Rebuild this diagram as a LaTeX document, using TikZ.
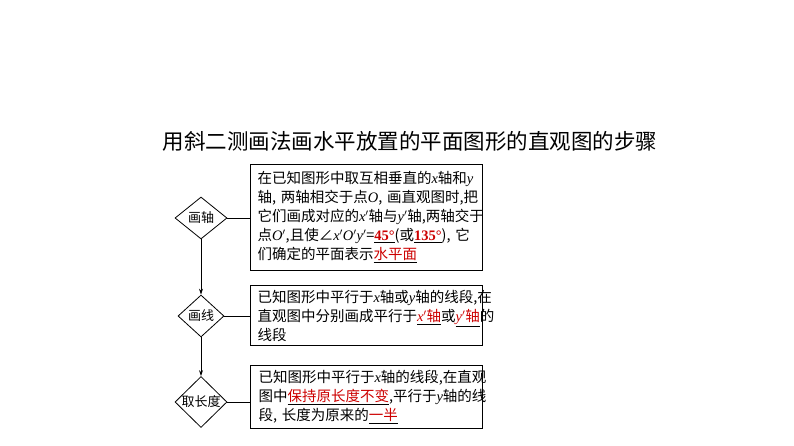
\documentclass[tikz,border=0pt]{standalone}
\usepackage{fontspec}
\setmainfont{Noto Sans CJK SC}
\newfontfamily\lat{Liberation Serif}
\usetikzlibrary{shapes.geometric,arrows.meta}
\newcommand{\vi}[1]{{\lat\itshape #1}}
\newcommand{\rd}[1]{\underline{\textcolor{red!80!black}{#1}}}
\tikzset{
  box/.style={draw,line width=1pt,anchor=north west,align=left,inner sep=0pt,font=\fontsize{14.5pt}{19pt}\selectfont},
  dia/.style={draw,diamond,line width=0.8pt,inner sep=1pt,font=\fontsize{13pt}{15pt}\selectfont,aspect=1},
  ln/.style={line width=0.8pt}
}
\begin{document}
\begin{tikzpicture}[x=1pt,y=-1pt]
\useasboundingbox (0,0) rectangle (794,446);
\node[font=\fontsize{21.5pt}{24pt}\selectfont] (title) at (410,141) {用斜二测画法画水平放置的平面图形的直观图的步骤};
\draw[line width=1pt] (250,165) rectangle (482,270);
\node[box,draw=none,text width=225pt] (b1) at (257,171) {在已知图形中取互相垂直的\vi{x}轴和\vi{y}\\轴, 两轴相交于点\vi{O}, 画直观图时,把\\它们画成对应的\vi{x}$'$轴与\vi{y}$'$轴,两轴交于\\点\vi{O}$'$,且使∠\vi{x}$'$\vi{O}$'$\vi{y}$'$=\rd{\lat\bfseries 45°}(或\rd{\lat\bfseries 135°}), 它\\们确定的平面表示\rd{水平面}};
\draw[line width=1pt] (250,285) rectangle (482,345);
\node[box,draw=none,text width=225pt] (b2) at (257,290) {已知图形中平行于\vi{x}轴或\vi{y}轴的线段,在\\直观图中分别画成平行于\rd{\vi{x}$'$轴}或\rd{\vi{y}$'$轴}的\\线段};
\draw[line width=1pt] (250,365) rectangle (482,428);
\node[box,draw=none,text width=225pt] (b3) at (258,370) {已知图形中平行于\vi{x}轴的线段,在直观\\图中\rd{保持原长度不变},平行于\vi{y}轴的线\\段, 长度为原来的\rd{一半}};
\node[dia,minimum width=52pt] (d1) at (201,218) {画轴};
\node[dia,minimum width=46pt] (d2) at (201,316) {画线};
\node[dia,minimum width=52pt,inner sep=0pt] (d3) at (201,402) {取长度};
\coordinate (l1) at (250,218);
\coordinate (l2) at (250,316);
\coordinate (l3) at (250,402);
\draw[ln] (d1.east) -- (l1);
\draw[ln] (d2.east) -- (l2);
\draw[ln] (d3.east) -- (l3);
\draw[ln,-{Stealth[length=6pt,width=4pt]}] (d1.south) -- (d2.north);
\draw[ln,-{Stealth[length=6pt,width=4pt]}] (d2.south) -- (d3.north);
\end{tikzpicture}
\end{document}
